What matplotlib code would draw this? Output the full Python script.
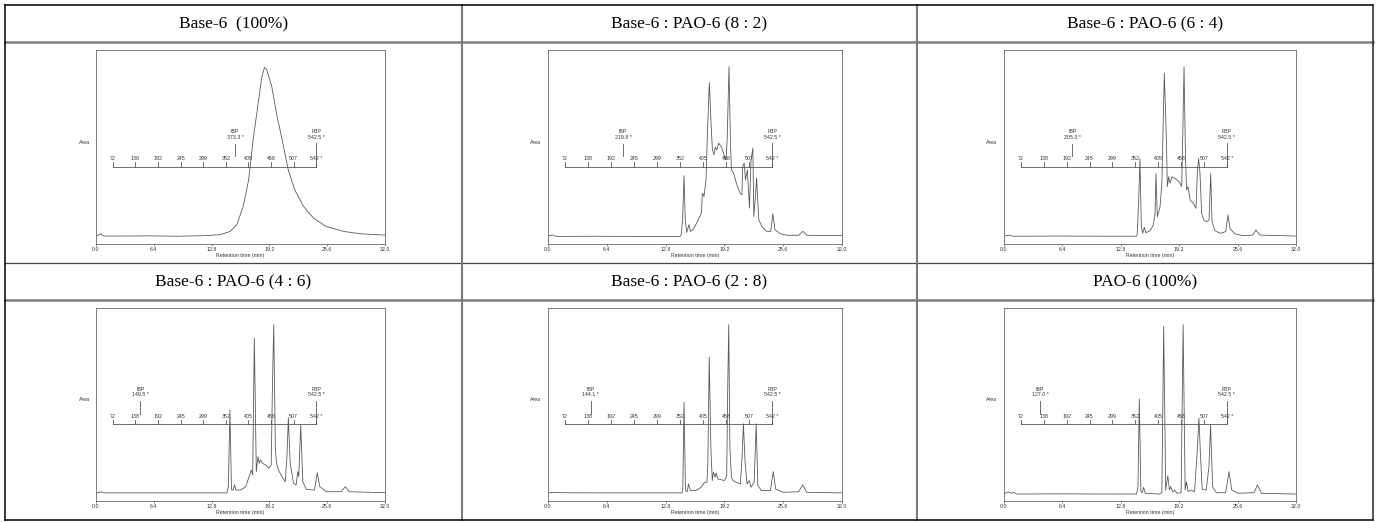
import numpy as np
import matplotlib
matplotlib.use("Agg")
import matplotlib.pyplot as plt
from matplotlib.lines import Line2D

# ---------------- data ----------------
titles = ["Base-6  (100%)", "Base-6 : PAO-6 (8 : 2)", "Base-6 : PAO-6 (6 : 4)",
          "Base-6 : PAO-6 (4 : 6)", "Base-6 : PAO-6 (2 : 8)", "PAO-6 (100%)"]
x_ticks = [0.0, 6.4, 12.8, 19.2, 25.6, 32.0]
x_tick_labels = ["0.0", "6.4", "12.8", "19.2", "25.6", "32.0"]
bp_labels = [72, 138, 192, 245, 299, 352, 405, 458, 507, 542]
bp_times = [1.85, 4.36, 6.86, 9.37, 11.87, 14.38, 16.88, 19.39, 21.89, 24.40]
ibp_values = [373.3, 219.8, 205.3, 149.5, 144.1, 127.0]
fbp_values = [542.5, 542.5, 542.5, 542.5, 542.5, 542.5]

t_base6 = [0.1, 0.55, 0.85, 3.0, 6.0, 9.0, 12.0, 13.75, 14.86, 15.6, 16.3, 16.9, 17.4, 18.0,
           18.36, 18.65, 18.9, 19.47, 20.0, 20.6, 21.3, 22.0, 22.97, 24.07, 25.5, 27.4, 29.2, 32.0]
s_base6 = [4.3, 5.3, 4.1, 4.1, 4.2, 4.0, 4.3, 4.8, 6.5, 10.0, 19.4, 33.0, 53.7, 74.0,
           86.0, 91.0, 90.0, 81.0, 67.0, 54.0, 38.0, 28.0, 19.4, 13.4, 9.0, 6.5, 5.3, 4.6]

t_82 = [0.1, 0.55, 0.9, 5.0, 10.0, 14.36, 14.5, 14.65, 14.8, 14.94, 15.1, 15.35, 15.5, 15.8, 16.36,
        16.7, 16.8, 16.98, 17.2, 17.35, 17.56, 17.78, 17.9, 18.07, 18.2, 18.36, 18.58, 18.87, 19.16,
        19.38, 19.5, 19.7, 19.85, 19.96, 20.2, 20.5, 20.9, 21.1, 21.2, 21.35, 21.5, 21.7, 21.93, 22.1,
        22.3, 22.4, 22.58, 22.7, 22.94, 23.27, 23.8, 24.25, 24.47, 24.7, 25.27, 26.0, 27.27, 27.74,
        28.2, 32.0]
s_82 = [4.3, 4.6, 3.9, 4.0, 3.9, 3.9, 4.8, 12.5, 35.2, 12.5, 6.0, 10.0, 6.5, 7.4, 12.5,
        16.0, 26.2, 24.5, 33.0, 57.0, 83.2, 58.8, 48.5, 46.0, 50.0, 48.5, 52.0, 50.0, 46.0,
        43.4, 53.7, 91.4, 53.7, 38.3, 36.5, 31.4, 26.2, 25.4, 40.0, 41.7, 33.0, 38.3, 18.5, 43.4,
        49.4, 14.2, 24.5, 34.0, 12.5, 9.1, 6.5, 6.5, 15.6, 7.4, 5.3, 4.5, 4.5, 6.5,
        4.5, 4.3]

t_64 = [0.1, 0.66, 1.0, 6.0, 12.0, 14.5, 14.6, 14.76, 14.9, 15.05, 15.2, 15.38, 15.56, 16.0, 16.37,
        16.55, 16.66, 16.8, 17.1, 17.3, 17.57, 17.8, 17.9, 18.05, 18.2, 18.4, 18.7, 19.0, 19.3, 19.47,
        19.58, 19.73, 19.87, 20.0, 20.17, 20.4, 20.75, 21.04, 21.2, 21.33, 21.48, 21.66, 21.9, 22.2,
        22.47, 22.65, 22.8, 23.1, 23.7, 24.3, 24.55, 24.77, 25.3, 26.2, 27.25, 27.6, 28.05, 32.0]
s_64 = [4.1, 4.6, 4.0, 4.1, 4.0, 4.0, 4.8, 22.7, 44.0, 8.9, 5.5, 8.6, 5.8, 6.9, 9.8,
        15.8, 36.4, 14.0, 19.2, 31.3, 88.0, 53.6, 29.6, 34.7, 31.3, 34.7, 33.8, 33.0, 31.3, 29.6,
        53.6, 91.4, 50.0, 27.8, 29.6, 22.7, 21.0, 18.4, 38.0, 44.0, 36.4, 15.8, 12.4, 11.5,
        12.4, 36.4, 11.5, 6.9, 5.5, 6.4, 15.0, 8.0, 5.2, 4.3, 4.6, 7.2, 4.6, 4.1]

t_46 = [0.1, 0.55, 0.9, 6.0, 12.0, 14.5, 14.65, 14.83, 15.0, 15.2, 15.34, 15.5, 16.0, 16.58, 16.95,
        17.2, 17.35, 17.53, 17.75, 17.93, 18.08, 18.2, 18.44, 18.77, 19.13, 19.4, 19.53, 19.68, 19.86,
        20.0, 20.2, 20.6, 20.96, 21.14, 21.3, 21.5, 21.87, 22.16, 22.34, 22.45, 22.67, 22.9, 23.3,
        24.2, 24.5, 24.78, 25.5, 27.15, 27.6, 28.06, 32.0]
s_46 = [4.3, 4.7, 4.2, 4.2, 4.2, 4.2, 7.4, 47.0, 6.0, 5.7, 8.3, 5.7, 5.7, 7.4, 12.6,
        16.0, 13.5, 84.4, 15.2, 23.0, 19.5, 21.3, 19.5, 18.7, 17.0, 18.7, 57.6, 91.3, 26.5,
        19.5, 16.0, 12.6, 10.0, 23.0, 43.0, 19.5, 9.2, 8.3, 15.2, 12.6, 39.4, 10.0, 6.0,
        5.7, 14.7, 7.4, 4.8, 4.8, 7.4, 4.8, 4.3]

t_28 = [0.1, 0.45, 1.3, 6.0, 12.0, 14.6, 14.67, 14.81, 14.96, 15.14, 15.3, 15.5, 16.1, 16.67, 17.04,
        17.3, 17.4, 17.55, 17.73, 17.88, 18.0, 18.2, 18.3, 18.5, 18.86, 19.2, 19.45, 19.56, 19.67,
        19.8, 19.96, 20.14, 20.5, 20.94, 21.13, 21.27, 21.45, 21.67, 21.9, 22.1, 22.44, 22.66, 22.84,
        23.24, 24.2, 24.52, 24.78, 25.6, 27.26, 27.73, 28.17, 32.0]
s_28 = [4.2, 4.5, 4.3, 4.2, 4.2, 4.2, 6.2, 51.2, 5.4, 4.8, 8.8, 5.4, 5.4, 7.1, 9.7,
        9.7, 20.0, 74.6, 27.0, 10.6, 14.9, 12.3, 14.5, 11.4, 11.0, 10.6, 13.0, 58.0, 91.3,
        27.0, 12.3, 10.6, 9.7, 8.8, 23.5, 40.0, 20.0, 8.8, 10.6, 7.1, 9.7, 40.0, 8.0,
        5.4, 5.4, 15.2, 6.2, 4.5, 4.8, 8.3, 4.5, 4.2]

t_pao6 = [0.1, 0.5, 0.8, 1.06, 1.4, 6.0, 12.0, 14.53, 14.68, 14.83, 15.0, 15.16, 15.3, 15.49, 17.0,
          17.3, 17.5, 17.72, 17.95, 18.13, 18.27, 18.5, 18.7, 18.94, 19.41, 19.63, 19.85, 20.0, 20.18,
          20.51, 20.88, 21.14, 21.36, 21.54, 21.72, 22.16, 22.46, 22.64, 22.86, 23.27, 24.29, 24.66,
          24.95, 25.65, 27.38, 27.78, 28.22, 32.0]
s_pao6 = [4.0, 4.7, 4.0, 4.5, 3.6, 3.7, 3.6, 3.6, 7.4, 52.8, 4.8, 4.3, 7.1, 4.0, 3.6,
          4.3, 90.5, 5.7, 13.1, 5.7, 7.4, 4.8, 5.7, 4.0, 4.3, 91.3, 5.7, 10.0, 4.8,
          5.7, 4.8, 23.0, 43.0, 23.0, 6.0, 5.7, 17.8, 39.4, 7.4, 4.3, 4.3, 15.2,
          5.7, 4.0, 4.3, 8.3, 4.0, 3.6]

times = [t_base6, t_82, t_64, t_46, t_28, t_pao6]
signals = [s_base6, s_82, s_64, s_46, s_28, s_pao6]

# ---------------- layout ----------------
W, H = 1380, 522
fig = plt.figure(figsize=(W / 100, H / 100), dpi=100)

def fx(px):
    return px / W

def fy(py):
    return 1 - py / H

col_frames = [(96, 385), (548, 842), (1004, 1296)]
row_frames = [(50, 244), (308, 501)]
header_rows = [(5, 42), (263, 300)]
col_edges = [5, 462, 917, 1373]

FS = 3.8
small = dict(fontsize=FS, family="Liberation Sans", color="#333333")
line_col = "#555555"

for i in range(6):
    r, c = divmod(i, 3)
    x0, x1 = col_frames[c]
    y0, y1 = row_frames[r]
    ax = fig.add_axes([fx(x0), fy(y1), fx(x1) - fx(x0), (y1 - y0) / H])
    ax.plot(times[i], signals[i], color="#5a5a5a", lw=0.6)
    ax.set_xlim(0, 32)
    ax.set_ylim(0, 100)
    ax.set_xticks(x_ticks)
    ax.set_xticklabels(x_tick_labels)
    ax.set_yticks([])
    ax.tick_params(axis="x", length=1.2, width=0.4, pad=0.8, labelsize=FS,
                   colors="#333333")
    for lab in ax.get_xticklabels():
        lab.set_family("Liberation Sans")
    for sp in ax.spines.values():
        sp.set_color("#666666")
        sp.set_linewidth(0.6)
    ax.set_xlabel("Retention time (min)", labelpad=0.6, **small)
    ax.text(-0.022, 0.525, "Area", transform=ax.transAxes, ha="right", va="center", **small)

    # boiling-point bracket
    tr = ax.get_xaxis_transform()
    yb = 0.398
    ax.plot([bp_times[0], bp_times[-1]], [yb, yb], transform=tr, color=line_col, lw=0.6)
    for bt, bl in zip(bp_times, bp_labels):
        ax.plot([bt, bt], [yb, yb + 0.024], transform=tr, color=line_col, lw=0.6)
        txt = f"{bl} *" if bl == bp_labels[-1] else f"{bl}"
        ax.text(bt, yb + 0.042, txt, transform=tr, ha="center", va="center", **small)
    ibp_t = np.interp(ibp_values[i], bp_labels, bp_times)
    fbp_t = np.interp(fbp_values[i], bp_labels, bp_times)
    ax.plot([ibp_t, ibp_t], [0.452, 0.517], transform=tr, color=line_col, lw=0.6)
    ax.plot([fbp_t, fbp_t], [yb, 0.52], transform=tr, color=line_col, lw=0.6)
    ax.text(ibp_t, 0.578, "IBP", transform=tr, ha="center", va="center", **small)
    ax.text(ibp_t, 0.550, f"{ibp_values[i]:.1f} *", transform=tr, ha="center", va="center", **small)
    ax.text(fbp_t, 0.578, "FBP", transform=tr, ha="center", va="center", **small)
    ax.text(fbp_t, 0.550, f"{fbp_values[i]:.1f} *", transform=tr, ha="center", va="center", **small)

    # header title
    hy0, hy1 = header_rows[r]
    cx = (col_edges[c] + col_edges[c + 1]) / 2
    fig.text(fx(cx), fy((hy0 + hy1) / 2 + 0.5), titles[i], ha="center", va="center",
             fontsize=12.5, family="Liberation Serif", color="black")

# ---------------- table lines ----------------
def hline(py, x0, x1, color, lw):
    fig.add_artist(Line2D([fx(x0), fx(x1)], [fy(py), fy(py)], color=color, lw=lw))

def vline(px, y0, y1, color, lw):
    fig.add_artist(Line2D([fx(px), fx(px)], [fy(y0), fy(y1)], color=color, lw=lw))

hline(42, 5, 1373, "#7f7f7f", 1.8)
hline(300, 5, 1373, "#7f7f7f", 1.8)
hline(263, 5, 1373, "#444444", 0.9)
vline(462, 5, 520, "#7a7a7a", 1.5)
vline(917, 5, 520, "#7a7a7a", 1.5)
hline(5, 5, 1373, "black", 1.1)
hline(520, 5, 1373, "black", 1.1)
vline(5, 5, 520, "black", 1.1)
vline(1373, 5, 520, "#222222", 1.1)

fig.savefig("out.png", dpi=100, facecolor="white")
